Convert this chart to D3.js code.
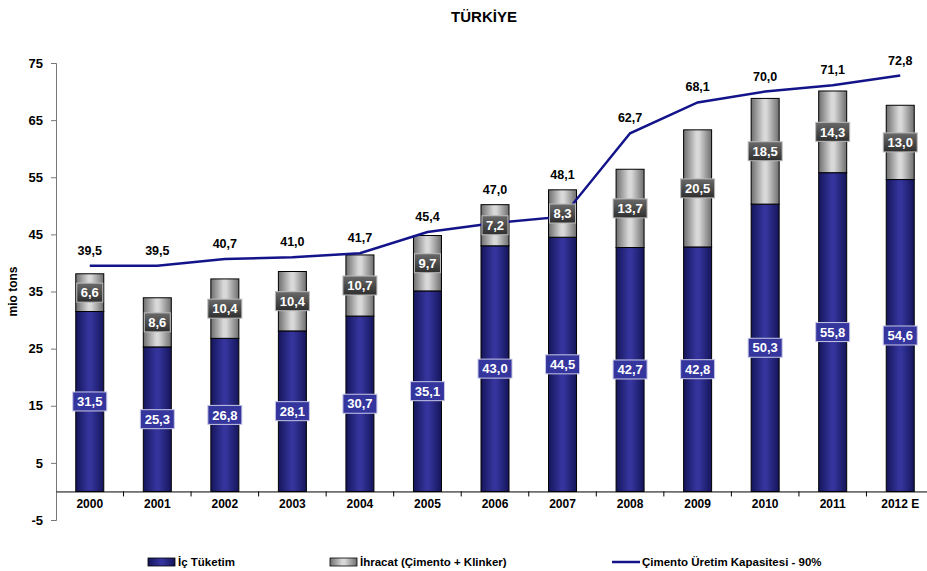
<!DOCTYPE html>
<html>
<head>
<meta charset="utf-8">
<script src="https://cdn.jsdelivr.net/npm/d3@7"></script>
<style>
  body { margin: 0; background: #fff; }
  svg { font-family: Arial, "Liberation Sans", sans-serif; }
  .legend text { font-family: "Liberation Sans Narrow", "Arial Narrow", Arial, sans-serif; font-weight: bold; font-size: 11.5px; }
</style>
</head>
<body>
<div class="chart"></div>
<script>
var years = ["2000", "2001", "2002", "2003", "2004", "2005", "2006", "2007", "2008", "2009", "2010", "2011", "2012 E"];
var domestic = [31.5, 25.3, 26.8, 28.1, 30.7, 35.1, 43.0, 44.5, 42.7, 42.8, 50.3, 55.8, 54.6];
var exportVals = [6.6, 8.6, 10.4, 10.4, 10.7, 9.7, 7.2, 8.3, 13.7, 20.5, 18.5, 14.3, 13.0];
var capacity = [39.5, 39.5, 40.7, 41.0, 41.7, 45.4, 47.0, 48.1, 62.7, 68.1, 70.0, 71.1, 72.8];
var yTicks = [-5, 5, 15, 25, 35, 45, 55, 65, 75];

var w = 927, h = 571;
var plotLeft = 56, plotRight = 934, plotTop = 63, plotBottom = 520;

var fmt = d3.formatLocale({decimal: ",", thousands: ".", grouping: [3], currency: ["", ""]}).format(".1f");

var svg = d3.select(".chart")
  .append("svg")
  .attr("width", w)
  .attr("height", h);

var defs = svg.append("defs");
function hGrad(id, stops) {
  var g = defs.append("linearGradient").attr("id", id)
    .attr("x1", "0%").attr("x2", "100%").attr("y1", "0%").attr("y2", "0%");
  stops.forEach(function(s) {
    g.append("stop").attr("offset", s[0]).attr("stop-color", s[1]);
  });
}
hGrad("blueGrad", [["0%", "#15155a"], ["45%", "#34349c"], ["55%", "#34349c"], ["100%", "#15155a"]]);
hGrad("grayGrad", [["0%", "#6e6e6e"], ["45%", "#d8d8d8"], ["55%", "#d8d8d8"], ["100%", "#6e6e6e"]]);
var vg = defs.append("linearGradient").attr("id", "boxGrad")
  .attr("x1", "0%").attr("x2", "0%").attr("y1", "0%").attr("y2", "100%");
vg.append("stop").attr("offset", "0%").attr("stop-color", "#6a6a6a");
vg.append("stop").attr("offset", "100%").attr("stop-color", "#2e2e2e");

var x = d3.scaleBand().domain(years).range([plotLeft, plotRight]).paddingInner(0).paddingOuter(0);
var y = d3.scaleLinear().domain([-5, 75]).range([plotBottom, plotTop]);
var barW = 28;
var cx = function(d, i) { return x(years[i]) + x.bandwidth() / 2; };

// title
svg.append("text")
  .attr("x", 484).attr("y", 22)
  .attr("text-anchor", "middle")
  .attr("font-size", "15px").attr("font-weight", "bold")
  .text("TÜRKİYE");

// y axis
var yAxis = svg.append("g")
  .attr("transform", "translate(" + plotLeft + ",0)")
  .call(d3.axisLeft(y).tickValues(yTicks).tickSize(5).tickPadding(8).tickFormat(function(d) { return String(d); }));
yAxis.select(".domain").attr("stroke", "#777");
yAxis.selectAll(".tick line").attr("stroke", "#777");
yAxis.selectAll("text").attr("font-size", "13px").attr("font-weight", "bold").attr("fill", "#000");

svg.append("text")
  .attr("transform", "translate(17," + ((plotTop + plotBottom) / 2) + ") rotate(-90)")
  .attr("text-anchor", "middle")
  .attr("font-size", "12px").attr("font-weight", "bold")
  .text("mio tons");

// x axis at zero
var xAxis = svg.append("g")
  .attr("transform", "translate(0," + y(0) + ")")
  .call(d3.axisBottom(x).tickSize(0).tickPadding(8));
xAxis.select(".domain").attr("stroke", "#000");
xAxis.selectAll("text").attr("font-size", "12px").attr("font-weight", "bold").attr("fill", "#000");
svg.selectAll(".xtick")
  .data(years.slice(1))
  .enter()
  .append("line")
  .attr("x1", function(d) { return x(d); })
  .attr("x2", function(d) { return x(d); })
  .attr("y1", y(0)).attr("y2", y(0) + 5)
  .attr("stroke", "#000");

// bars
svg.selectAll(".dom")
  .data(domestic)
  .enter()
  .append("rect")
  .attr("x", function(d, i) { return cx(d, i) - barW / 2; })
  .attr("y", function(d) { return y(d); })
  .attr("width", barW)
  .attr("height", function(d) { return y(0) - y(d); })
  .attr("fill", "url(#blueGrad)")
  .attr("stroke", "#000").attr("stroke-width", 1);

svg.selectAll(".exp")
  .data(exportVals)
  .enter()
  .append("rect")
  .attr("x", function(d, i) { return cx(d, i) - barW / 2; })
  .attr("y", function(d, i) { return y(domestic[i] + d); })
  .attr("width", barW)
  .attr("height", function(d, i) { return y(domestic[i]) - y(domestic[i] + d); })
  .attr("fill", "url(#grayGrad)")
  .attr("stroke", "#000").attr("stroke-width", 1);

// capacity line
var line = d3.line()
  .x(function(d, i) { return cx(d, i); })
  .y(function(d) { return y(d); });
svg.append("path")
  .datum(capacity)
  .attr("d", line)
  .attr("fill", "none")
  .attr("stroke", "#14148a")
  .attr("stroke-width", 2.5);

// label sits above the line point, or above the bar if the bar is taller
svg.selectAll(".capLabel")
  .data(capacity)
  .enter()
  .append("text")
  .attr("x", function(d, i) { return cx(d, i); })
  .attr("y", function(d, i) { return Math.min(y(d), y(domestic[i] + exportVals[i])) - 11; })
  .attr("text-anchor", "middle")
  .attr("font-size", "12.5px").attr("font-weight", "bold")
  .text(function(d) { return fmt(d); });

// value boxes
function boxLabels(data, mid, fill, stroke, cls) {
  var g = svg.selectAll("." + cls)
    .data(data)
    .enter()
    .append("g")
    .attr("transform", function(d, i) { return "translate(" + cx(d, i) + "," + y(mid(d, i)) + ")"; });
  g.append("rect")
    .attr("x", function(d) { return d >= 10 ? -17 : -13; })
    .attr("y", -9.5)
    .attr("width", function(d) { return d >= 10 ? 34 : 26; })
    .attr("height", 19)
    .attr("fill", fill)
    .attr("stroke", stroke).attr("stroke-width", 1);
  g.append("text")
    .attr("text-anchor", "middle")
    .attr("dy", "0.36em")
    .attr("fill", "#fff")
    .attr("font-size", "13px").attr("font-weight", "bold")
    .text(function(d) { return fmt(d); });
}
boxLabels(domestic, function(d) { return d / 2; }, "#35359e", "#c8c8e8", "domLabel");
boxLabels(exportVals, function(d, i) { return domestic[i] + d / 2; }, "url(#boxGrad)", "#bbb", "expLabel");

// legend
var legend = svg.append("g").attr("class", "legend");
var items = [
  {label: "İç Tüketim", x: 148, type: "rect", fill: "url(#blueGrad)"},
  {label: "İhracat (Çimento + Klinker)", x: 330, type: "rect", fill: "url(#grayGrad)"},
  {label: "Çimento Üretim Kapasitesi - 90%", x: 612, type: "line"}
];
items.forEach(function(it) {
  if (it.type === "rect") {
    legend.append("rect")
      .attr("x", it.x).attr("y", 558).attr("width", 27).attr("height", 8)
      .attr("fill", it.fill).attr("stroke", "#000").attr("stroke-width", 0.8);
  } else {
    legend.append("line")
      .attr("x1", it.x).attr("x2", it.x + 28).attr("y1", 562).attr("y2", 562)
      .attr("stroke", "#14148a").attr("stroke-width", 2.5);
  }
  legend.append("text")
    .attr("x", it.x + 30).attr("y", 566)
    .text(it.label);
});
</script>
</body>
</html>
